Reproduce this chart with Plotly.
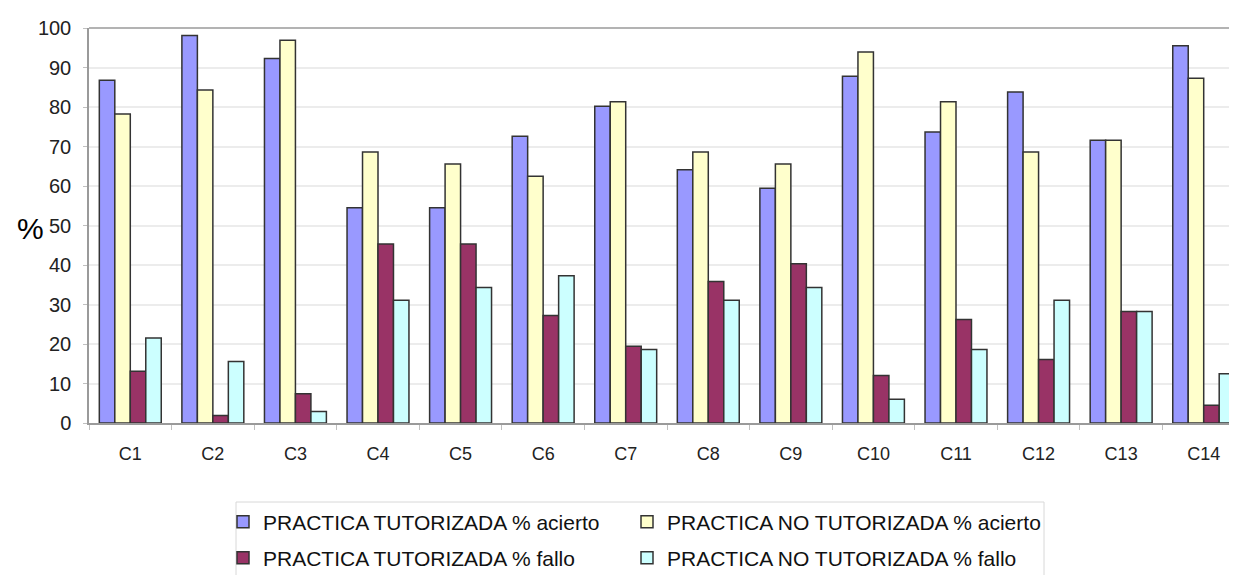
import plotly.graph_objects as go

categories = ["C1", "C2", "C3", "C4", "C5", "C6", "C7", "C8", "C9", "C10", "C11", "C12", "C13", "C14"]
tut_acierto = [86.8, 98.1, 92.3, 54.5, 54.5, 72.6, 80.2, 64.1, 59.4, 87.8, 73.7, 83.8, 71.6, 95.5]
notut_acierto = [78.2, 84.3, 96.9, 68.6, 65.6, 62.5, 81.3, 68.6, 65.6, 93.9, 81.3, 68.6, 71.6, 87.3]
tut_fallo = [13.1, 1.9, 7.4, 45.3, 45.3, 27.2, 19.4, 35.8, 40.3, 12.0, 26.2, 16.1, 28.2, 4.5]
notut_fallo = [21.5, 15.6, 2.9, 31.1, 34.3, 37.3, 18.6, 31.1, 34.3, 6.0, 18.6, 31.1, 28.2, 12.5]

series = [
    ("PRACTICA TUTORIZADA % acierto", tut_acierto, "#9999FF", "legend"),
    ("PRACTICA NO TUTORIZADA % acierto", notut_acierto, "#FFFFCC", "legend2"),
    ("PRACTICA TUTORIZADA % fallo", tut_fallo, "#993366", "legend3"),
    ("PRACTICA NO TUTORIZADA % fallo", notut_fallo, "#CCFFFF", "legend4"),
]

fig = go.Figure()
for name, vals, color, leg in series:
    fig.add_trace(go.Bar(
        x=categories, y=vals, name=name, legend=leg,
        marker=dict(color=color, line=dict(color="#333333", width=1.5)),
    ))

# page body has an 8px margin: convert screen pixels to figure coords
OFF = 8
W, H = 1237, 575
L, T = 81, 20
PB = 415  # plot bottom in figure px
B = H - PB
R = 0
pw = W - L - R
ph = PB - T


def px(sx):
    return (sx - OFF - L) / pw


def py(sy):
    return (PB - (sy - OFF)) / ph


leg_common = dict(
    orientation="h", xanchor="left", yanchor="middle",
    borderwidth=0, bgcolor="rgba(0,0,0,0)",
    font=dict(size=21, color="#111111"),
)

fig.update_layout(
    width=W, height=H,
    margin=dict(l=L, r=R, t=T, b=B, autoexpand=False),
    paper_bgcolor="white", plot_bgcolor="white",
    barmode="group", bargap=0.25, bargroupgap=0,
    font=dict(family="Liberation Sans, Arial, sans-serif", color="#222222"),
    showlegend=True,
    legend=dict(x=px(223), y=py(522), **leg_common),
    legend2=dict(x=px(627), y=py(522), **leg_common),
    legend3=dict(x=px(223), y=py(558), **leg_common),
    legend4=dict(x=px(627), y=py(558), **leg_common),
    xaxis=dict(
        range=[-0.5, 13.5],
        showline=True, linecolor="#9a9a9a", linewidth=1.5,
        ticks="outside", tickson="boundaries", ticklen=5, tickcolor="#c0c0c0",
        tickfont=dict(size=18, color="#222222"),
        ticklabelstandoff=14,
        showgrid=False,
    ),
    yaxis=dict(
        range=[0, 100], dtick=10,
        showline=True, linecolor="#9a9a9a", linewidth=1.5,
        mirror=False,
        ticks="outside", ticklen=4, tickcolor="#c0c0c0",
        gridcolor="#ececec", gridwidth=1.5,
        tickfont=dict(size=20, color="#222222"),
        ticklabelstandoff=8,
        zeroline=False,
    ),
    annotations=[dict(
        text="%", xref="paper", yref="paper",
        x=px(30), y=py(228),
        xanchor="center", yanchor="middle", showarrow=False,
        font=dict(size=30, color="#000000"),
    )],
    shapes=[
        dict(type="line", xref="paper", yref="paper",
             x0=0, x1=1, y0=1, y1=1,
             line=dict(color="#9a9a9a", width=1.5)),
        dict(type="rect", xref="paper", yref="paper",
             x0=px(236), x1=px(1044), y0=py(620), y1=py(502),
             line=dict(color="#d8d8d8", width=1)),
    ],
)

fig.write_html("out.html")
